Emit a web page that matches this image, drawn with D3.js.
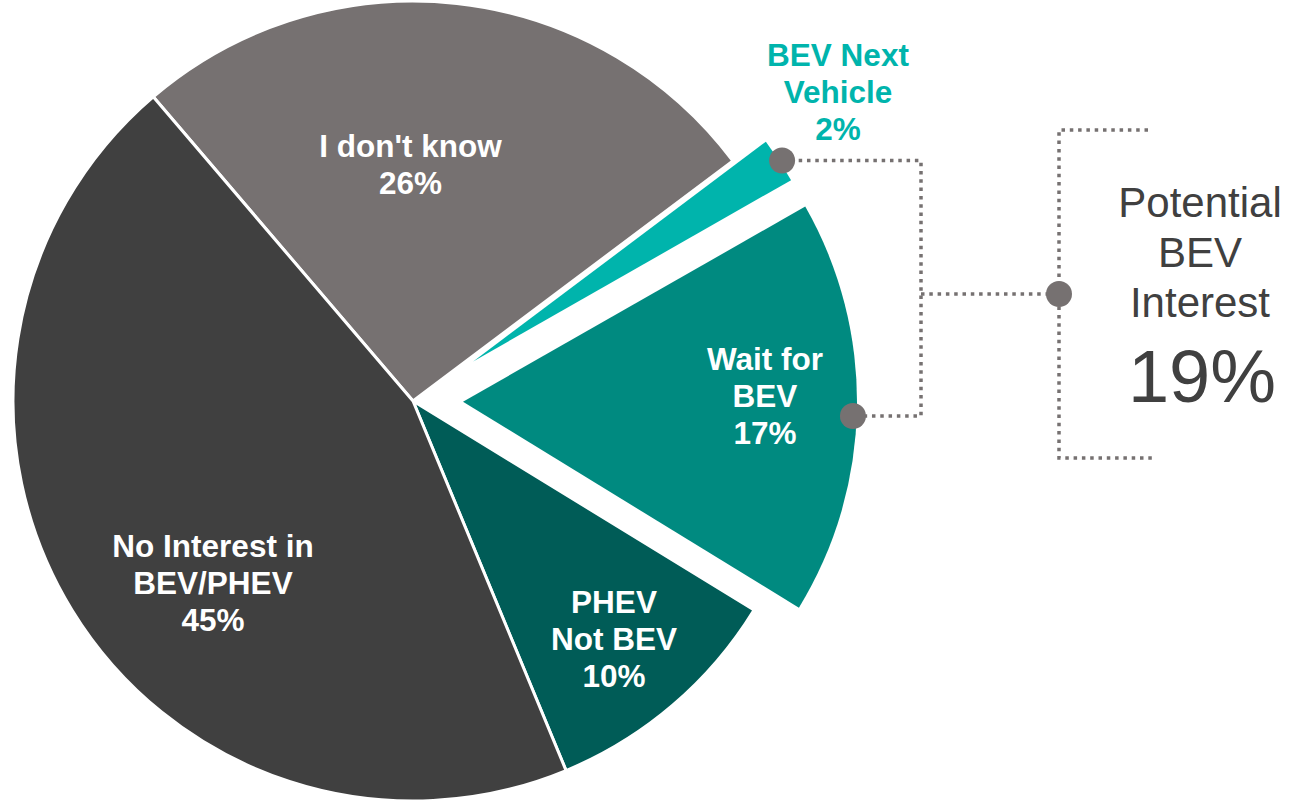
<!DOCTYPE html>
<html>
<head>
<meta charset="utf-8">
<script src="https://cdn.jsdelivr.net/npm/d3@7"></script>
<style>
  body { margin: 0; background: #fff; }
  svg { display: block; font-family: "Liberation Sans", Arial, sans-serif; }
</style>
</head>
<body>
<svg id="main-vis" width="1291" height="800"></svg>
<script>
// data
var categories = ["I don't know", "BEV Next Vehicle", "Wait for BEV", "PHEV Not BEV", "No Interest in BEV/PHEV"];
var shares = [26, 2, 17, 10, 45];
var labelLines = [["I don't know"], ["BEV Next", "Vehicle"], ["Wait for", "BEV"], ["PHEV", "Not BEV"], ["No Interest in", "BEV/PHEV"]];
var colors = ["#767171", "#00b4ac", "#008a80", "#005c57", "#404040"];
var potentialLines = ["Potential", "BEV", "Interest"];
var potentialParts = ["BEV Next Vehicle", "Wait for BEV"];

// layout
var cx = 413, cy = 401, radius = 400;
var startDeg = -40.5;
var explode = { "BEV Next Vehicle": { offset: 72, r: 366 }, "Wait for BEV": { offset: 50, r: 394 } };
var labelPos = {
  "I don't know": [-2.5, -244],
  "BEV Next Vehicle": [425, -335],
  "Wait for BEV": [352, -31],
  "PHEV Not BEV": [201, 212],
  "No Interest in BEV/PHEV": [-200, 156]
};
var lineGap = 37;

var rows = categories.map(function (c, i) {
  return { category: c, value: shares[i], lines: labelLines[i], color: colors[i] };
});

var svg = d3.select('#main-vis');
var g = svg.append('g').attr('transform', 'translate(' + cx + ',' + cy + ')');

var start = startDeg * Math.PI / 180;
var pie = d3.pie().sort(null).value(function (d) { return d.value; })
  .startAngle(start).endAngle(start + 2 * Math.PI);
var arcs = pie(rows);

function polar(r, a) { return [r * Math.sin(a), -r * Math.cos(a)]; }

arcs.forEach(function (a) {
  var ex = explode[a.data.category];
  var mid = (a.startAngle + a.endAngle) / 2;
  var off = ex ? polar(ex.offset, mid) : [0, 0];
  var r = ex ? ex.r : radius;
  a.anchor = [off[0] + polar(r, mid)[0], off[1] + polar(r, mid)[1]];
  g.append('path')
    .attr('transform', 'translate(' + off[0] + ',' + off[1] + ')')
    .attr('d', d3.arc().innerRadius(0).outerRadius(r)(a))
    .attr('fill', a.data.color)
    .attr('stroke', ex ? 'none' : '#fff')
    .attr('stroke-width', 3)
    .attr('stroke-linejoin', 'round');
});

// slice labels
arcs.forEach(function (a) {
  var p = labelPos[a.data.category];
  var t = g.append('text')
    .attr('text-anchor', 'middle')
    .attr('font-size', 31.5)
    .attr('font-weight', 'bold')
    .attr('fill', a.data.category === "BEV Next Vehicle" ? a.data.color : '#fff');
  a.data.lines.concat([a.data.value + '%']).forEach(function (line, i) {
    t.append('tspan').attr('x', p[0]).attr('y', p[1] + i * lineGap).text(line);
  });
});

// connector bracket
var parts = arcs.filter(function (a) { return potentialParts.indexOf(a.data.category) >= 0; });
var upperDot = [cx + parts[0].anchor[0] + 3, cy + parts[0].anchor[1]];
var lowerDot = [cx + parts[1].anchor[0] - 4, cy + parts[1].anchor[1] + 8];
var joinX = 921, braceX = 1059, braceTop = 130, braceBot = 458;
var braceMid = (braceTop + braceBot) / 2;
var dotted = { stroke: '#767171', width: 3.5, dash: '3.5,4.8' };

function dline(pts) {
  svg.append('path')
    .attr('d', d3.line()(pts))
    .attr('fill', 'none')
    .attr('stroke', dotted.stroke)
    .attr('stroke-width', dotted.width)
    .attr('stroke-dasharray', dotted.dash);
}
dline([upperDot, [joinX, upperDot[1]], [joinX, lowerDot[1]], lowerDot]);
dline([[joinX, braceMid], [braceX, braceMid]]);
dline([[1148, braceTop], [braceX, braceTop], [braceX, braceBot], [1152, braceBot]]);

[upperDot, lowerDot, [braceX, braceMid]].forEach(function (p) {
  svg.append('circle').attr('cx', p[0]).attr('cy', p[1]).attr('r', 13).attr('fill', '#767171');
});

// potential interest text
var total = d3.sum(parts, function (a) { return a.data.value; });
var pt = svg.append('text').attr('text-anchor', 'middle').attr('fill', '#404040').attr('font-size', 42);
potentialLines.forEach(function (line, i) {
  pt.append('tspan').attr('x', 1200).attr('y', 217 + i * 50).text(line);
});
svg.append('text')
  .attr('x', 1202).attr('y', 402)
  .attr('text-anchor', 'middle')
  .attr('fill', '#404040')
  .attr('font-size', 74)
  .text(total + '%');
</script>
</body>
</html>
